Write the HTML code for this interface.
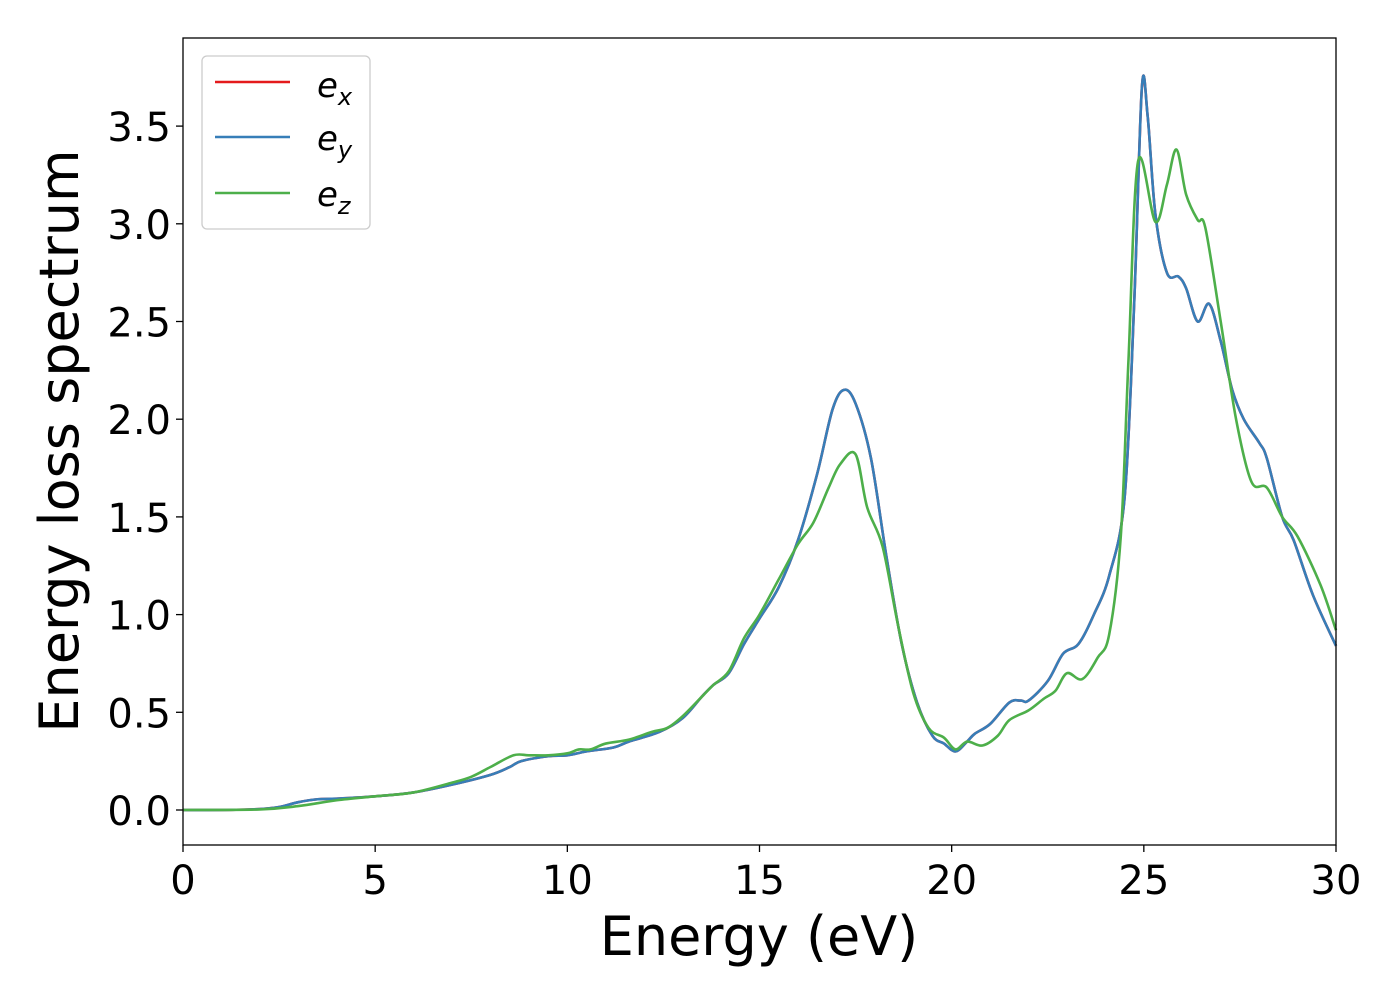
<!DOCTYPE html>
<html><head><meta charset="utf-8"><style>
body{margin:0;background:#fff;}
svg text{font-family:"DejaVu Sans","Liberation Sans",sans-serif;fill:#000;}
</style></head><body>
<svg id="chart" width="1400" height="1000" viewBox="0 0 1400 1000" xmlns="http://www.w3.org/2000/svg">
<rect x="0" y="0" width="1400" height="1000" fill="#fff"/>
<g id="series"></g>
<rect x="183" y="38" width="1153" height="807" fill="none" stroke="#000" stroke-width="1.3"/>
<g id="xticks"></g>
<g id="yticks"></g>
<text x="759" y="955" font-size="54" text-anchor="middle">Energy (eV)</text>
<text transform="translate(78,441) rotate(-90)" font-size="54" text-anchor="middle">Energy loss spectrum</text>
<g>
<rect x="202" y="56" width="168" height="173" rx="5" fill="#fff" stroke="#ccc" stroke-width="1.3"/>
<line x1="215" y1="82" x2="290" y2="82" stroke="#e41a1c" stroke-width="2.5"/>
<text x="317" y="97" font-size="34" font-style="italic">e<tspan font-size="24" dy="8">x</tspan></text>
<line x1="215" y1="137" x2="290" y2="137" stroke="#377eb8" stroke-width="2.5"/>
<text x="317" y="150" font-size="34" font-style="italic">e<tspan font-size="24" dy="8">y</tspan></text>
<line x1="215" y1="193" x2="290" y2="193" stroke="#4daf4a" stroke-width="2.5"/>
<text x="317" y="206" font-size="34" font-style="italic">e<tspan font-size="24" dy="8">z</tspan></text>
</g>
</svg>
<script>
const eyE=[0,1,2,2.5,3,3.5,4,5,6,7,8,8.5,8.8,9.5,10,10.5,11.2,11.6,12.4,13,13.5,13.8,14.2,14.6,15,15.5,16,16.5,16.9,17.2,17.5,17.9,18.3,18.7,19.1,19.5,19.8,20.1,20.4,20.6,21,21.5,21.8,22,22.5,22.9,23.3,23.7,24.1,24.5,24.75,24.95,25.1,25.3,25.6,25.9,26.1,26.4,26.7,27,27.3,27.6,28,28.2,28.6,28.9,29.4,30];
const eyV=[0,0,0.005,0.015,0.04,0.055,0.058,0.07,0.09,0.13,0.18,0.22,0.25,0.275,0.28,0.3,0.32,0.35,0.4,0.47,0.58,0.64,0.7,0.85,0.98,1.14,1.38,1.72,2.05,2.15,2.08,1.8,1.3,0.85,0.55,0.38,0.34,0.3,0.35,0.39,0.44,0.55,0.56,0.56,0.66,0.8,0.85,1.0,1.2,1.6,2.6,3.7,3.55,3.05,2.75,2.73,2.67,2.5,2.59,2.4,2.15,2.0,1.88,1.8,1.5,1.38,1.1,0.84];
const exE=eyE.slice();
const exV=eyV.slice();
const ezE=[0,2,3,4,5,6,7,7.5,8,8.6,9,9.5,10,10.3,10.6,11,11.6,12.2,12.6,13,13.5,13.8,14.2,14.6,15,15.5,16,16.4,16.8,17.1,17.5,17.8,18.2,18.6,19,19.4,19.8,20.1,20.4,20.8,21.2,21.5,22,22.4,22.7,23,23.4,23.8,24.1,24.4,24.6,24.85,25.3,25.6,25.85,26.1,26.4,26.6,27,27.4,27.8,28.2,28.6,29,29.6,30];
const ezV=[0,0.003,0.02,0.05,0.07,0.09,0.14,0.17,0.22,0.28,0.28,0.28,0.29,0.31,0.31,0.34,0.36,0.4,0.42,0.48,0.58,0.64,0.71,0.88,1.0,1.18,1.36,1.47,1.65,1.77,1.82,1.55,1.35,0.95,0.6,0.42,0.37,0.31,0.35,0.33,0.38,0.46,0.51,0.57,0.61,0.7,0.67,0.78,0.9,1.4,2.3,3.32,3.01,3.2,3.38,3.15,3.02,2.98,2.5,2.0,1.68,1.65,1.5,1.4,1.15,0.92];
const xTicks=[0,5,10,15,20,25,30];
const yTicks=[0,0.5,1,1.5,2,2.5,3,3.5];
const yTickLabels=["0.0","0.5","1.0","1.5","2.0","2.5","3.0","3.5"];
const NS="http://www.w3.org/2000/svg";
function xs(v){return 183+v*(1153/30);}
function ys(v){return 810-v*195.4;}
function pathD(E,V){
  const p=E.map((e,i)=>[xs(e),ys(V[i])]);
  let d="M"+p[0][0]+","+p[0][1];
  for(let i=0;i<p.length-1;i++){
    const p0=p[i-1]||p[i],p1=p[i],p2=p[i+1],p3=p[i+2]||p2;
    const c1=[p1[0]+(p2[0]-p0[0])/6,p1[1]+(p2[1]-p0[1])/6];
    const c2=[p2[0]-(p3[0]-p1[0])/6,p2[1]-(p3[1]-p1[1])/6];
    d+=" C"+c1[0]+","+c1[1]+" "+c2[0]+","+c2[1]+" "+p2[0]+","+p2[1];
  }
  return d;
}
const sg=document.getElementById("series");
[[exE,exV,"#e41a1c","series-ex"],[eyE,eyV,"#377eb8","series-ey"],[ezE,ezV,"#4daf4a","series-ez"]].forEach(s=>{
  const el=document.createElementNS(NS,"path");
  el.setAttribute("d",pathD(s[0],s[1]));
  el.setAttribute("fill","none");
  el.setAttribute("stroke",s[2]);
  el.setAttribute("stroke-width","2.6");
  
  
  sg.appendChild(el);
});
const xg=document.getElementById("xticks");
xTicks.forEach(t=>{
  const l=document.createElementNS(NS,"line");
  l.setAttribute("x1",xs(t));l.setAttribute("x2",xs(t));l.setAttribute("y1",845);l.setAttribute("y2",852);
  l.setAttribute("stroke","#000");l.setAttribute("stroke-width","1.3");
  
  
  xg.appendChild(l);
  const tx=document.createElementNS(NS,"text");
  tx.setAttribute("x",xs(t));tx.setAttribute("y",894);tx.setAttribute("font-size","40");tx.setAttribute("text-anchor","middle");
  tx.textContent=String(t);
  
  
  xg.appendChild(tx);
});
const yg=document.getElementById("yticks");
yTicks.forEach((t,i)=>{
  const l=document.createElementNS(NS,"line");
  l.setAttribute("x1",176);l.setAttribute("x2",183);l.setAttribute("y1",ys(t));l.setAttribute("y2",ys(t));
  l.setAttribute("stroke","#000");l.setAttribute("stroke-width","1.3");
  
  
  yg.appendChild(l);
  const tx=document.createElementNS(NS,"text");
  tx.setAttribute("x",171);tx.setAttribute("y",ys(t)+15);tx.setAttribute("font-size","40");tx.setAttribute("text-anchor","end");
  tx.textContent=yTickLabels[i];
  
  
  yg.appendChild(tx);
});
</script>
</body></html>
